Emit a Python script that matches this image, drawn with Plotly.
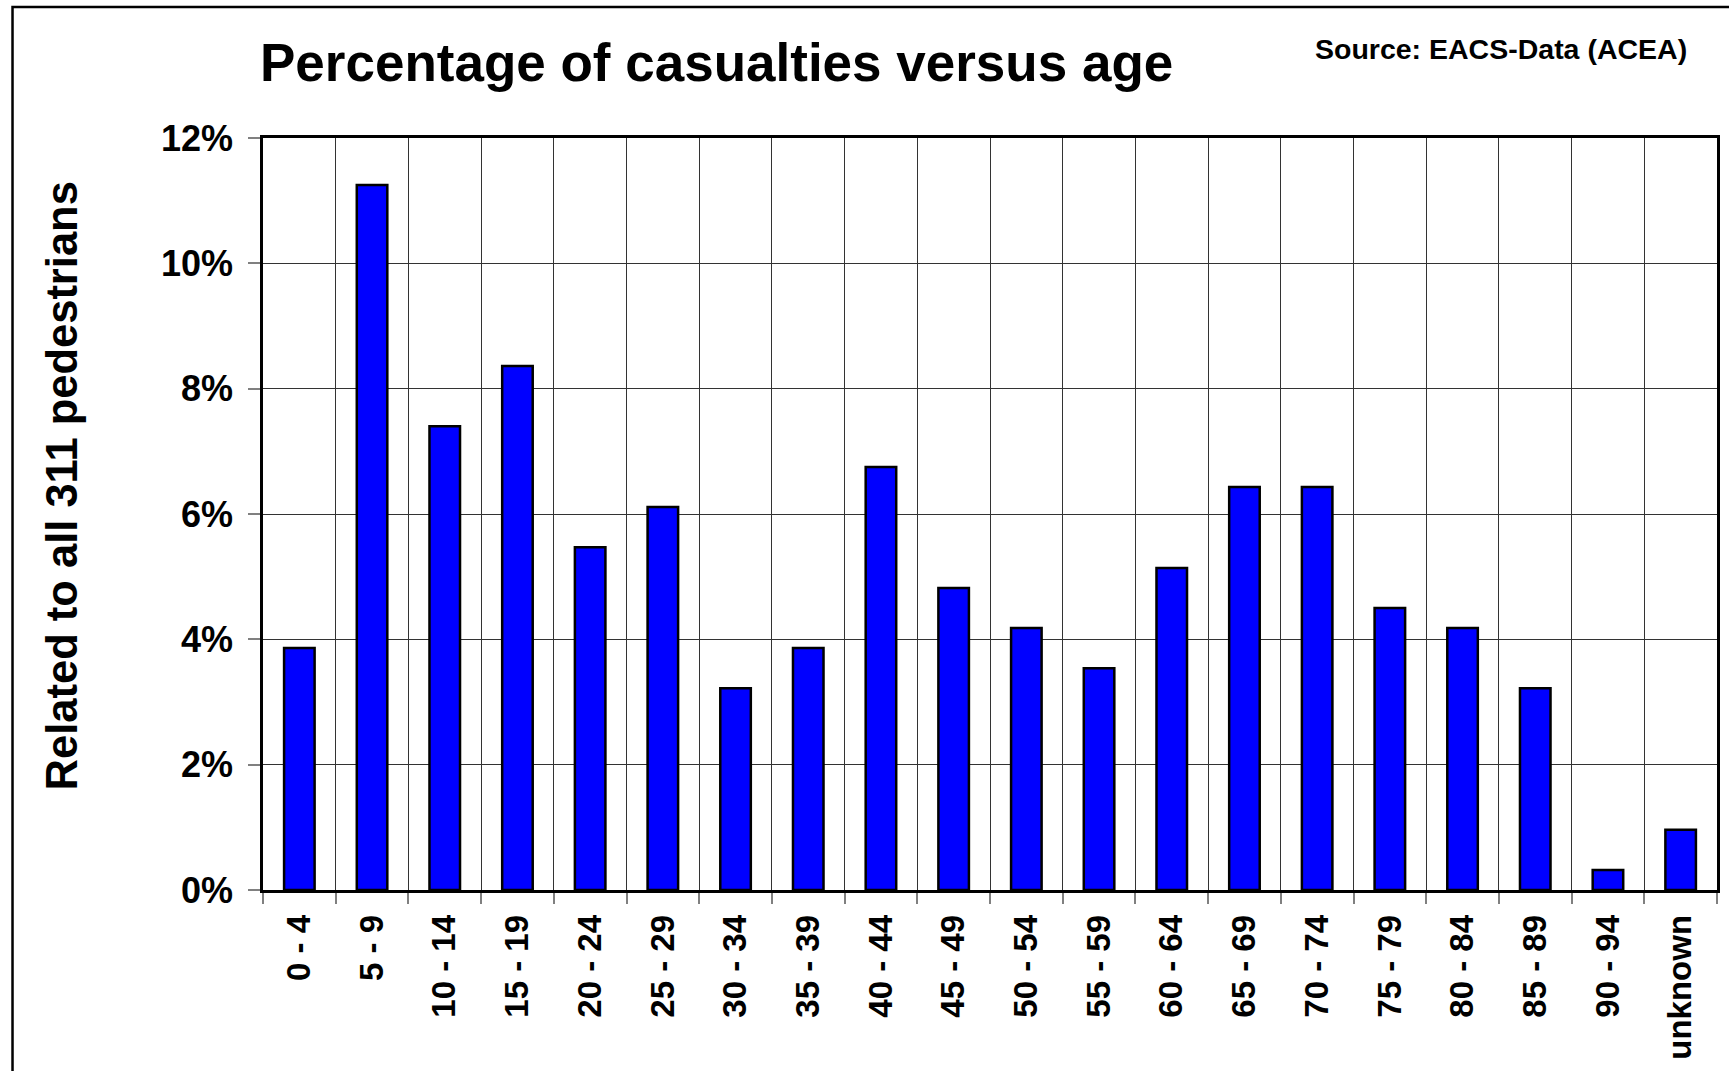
import plotly.graph_objects as go

# Age groups of pedestrian casualties (EACS data, 311 pedestrians in total)
age_groups = ["0 - 4", "5 - 9", "10 - 14", "15 - 19", "20 - 24", "25 - 29",
              "30 - 34", "35 - 39", "40 - 44", "45 - 49", "50 - 54", "55 - 59",
              "60 - 64", "65 - 69", "70 - 74", "75 - 79", "80 - 84", "85 - 89",
              "90 - 94", "unknown"]

# Share of all pedestrians per age group, in percent
share_pct = [3.86, 11.25, 7.40, 8.36, 5.47, 6.11, 3.22, 3.86, 6.75, 4.82,
             4.18, 3.54, 5.14, 6.43, 6.43, 4.50, 4.18, 3.22, 0.32, 0.96]

y_ticks = [0, 2, 4, 6, 8, 10, 12]

FONT = "Liberation Sans, Arial, Helvetica, sans-serif"

W, H = 1729, 1071
L, R, T, B = 263, 9, 138, 181
PW, PH = W - L - R, H - T - B


def px_x(x):
    return (x - L) / PW


def px_y(y):
    return (H - B - y) / PH


fig = go.Figure(
    go.Bar(
        x=age_groups,
        y=share_pct,
        marker=dict(color="#0000FF", line=dict(color="#000000", width=2.5)),
    )
)

fig.update_layout(
    width=W,
    height=H,
    margin=dict(l=L, r=R, t=T, b=B, pad=0),
    paper_bgcolor="white",
    plot_bgcolor="white",
    bargap=0.58,
    showlegend=False,
    font=dict(family=FONT, color="black"),
)

fig.update_xaxes(
    type="category",
    tickson="boundaries",
    tickangle=-90,
    tickfont=dict(family=FONT, size=33, color="black", weight="bold"),
    ticks="outside",
    ticklen=11,
    tickwidth=1.5,
    tickcolor="#808080",
    ticklabelstandoff=9,
    showgrid=True,
    gridcolor="#333333",
    gridwidth=1,
    showline=True,
    linecolor="black",
    linewidth=2.5,
    mirror=True,
)

fig.update_yaxes(
    range=[0, 12],
    tickvals=y_ticks,
    ticktext=[f"{v}%" for v in y_ticks],
    tickfont=dict(family=FONT, size=36, color="black", weight="bold"),
    ticks="outside",
    ticklen=12,
    tickwidth=1.5,
    tickcolor="#808080",
    ticklabelstandoff=8,
    showgrid=True,
    gridcolor="#333333",
    gridwidth=1,
    zeroline=False,
    showline=True,
    linecolor="black",
    linewidth=2.5,
    mirror=True,
)

# Outer frame of the slide-style chart
fig.add_shape(
    type="rect", xref="paper", yref="paper",
    x0=px_x(12), x1=px_x(W + 20), y0=px_y(H + 20), y1=px_y(7),
    line=dict(color="black", width=2.5), fillcolor="rgba(0,0,0,0)",
    layer="below",
)

fig.add_annotation(
    text="<b>Percentage of casualties versus age</b>",
    xref="paper", yref="paper", x=px_x(258), y=px_y(62),
    xanchor="left", yanchor="middle", showarrow=False,
    font=dict(family=FONT, size=53, color="black"),
)

fig.add_annotation(
    text="<b>Source: EACS-Data (ACEA)</b>",
    xref="paper", yref="paper", x=px_x(1692), y=px_y(49),
    xanchor="right", yanchor="middle", showarrow=False,
    font=dict(family=FONT, size=28.5, color="black"),
)

fig.add_annotation(
    text="<b>Related to all 311 pedestrians</b>",
    xref="paper", yref="paper", x=px_x(62), y=px_y(486),
    xanchor="center", yanchor="middle", textangle=-90, showarrow=False,
    font=dict(family=FONT, size=43.5, color="black"),
)

fig.write_html("out.html")
